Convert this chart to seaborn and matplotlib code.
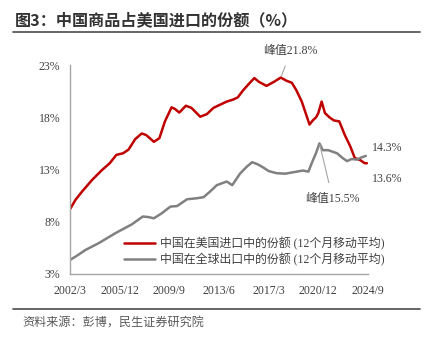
import matplotlib
matplotlib.use("Agg")
import matplotlib.pyplot as plt
import seaborn as sns
import pandas as pd
from matplotlib.lines import Line2D

# China's share of US imports (12-month moving average, %)
us_import_dates = [
    "2002-03", "2002-08", "2003-02", "2003-11", "2004-08", "2005-03", "2005-09",
    "2006-03", "2006-08", "2007-02", "2007-08", "2007-12", "2008-07", "2008-12",
    "2009-05", "2009-11", "2010-02", "2010-06", "2010-12", "2011-05", "2012-01",
    "2012-07", "2013-01", "2013-07", "2014-01", "2014-07", "2014-11", "2015-04",
    "2015-10", "2016-02", "2016-06", "2017-01", "2017-08", "2018-02", "2018-07",
    "2018-12", "2019-04", "2019-09", "2020-04", "2020-07", "2020-10", "2020-12",
    "2021-03", "2021-06", "2021-10", "2022-02", "2022-07", "2022-12", "2023-05",
    "2023-09", "2024-02", "2024-06", "2024-08",
]
us_import_share = [
    9.2, 10.1, 10.9, 12.0, 12.95, 13.6, 14.4,
    14.55, 14.9, 15.9, 16.45, 16.3, 15.65, 16.0,
    17.6, 18.95, 18.8, 18.45, 19.1, 18.9, 18.05,
    18.3, 18.9, 19.2, 19.5, 19.7, 19.9, 20.6,
    21.3, 21.75, 21.4, 21.0, 21.4, 21.8, 21.5,
    21.3, 20.6, 19.5, 17.3, 17.7, 18.0, 18.4,
    19.5, 18.4, 18.0, 17.7, 17.6, 16.3, 15.2,
    14.1, 13.9, 13.6, 13.6,
]

# China's share of global exports (12-month moving average, %)
world_export_dates = [
    "2002-03", "2002-10", "2003-05", "2004-05", "2005-08", "2006-11", "2007-09",
    "2008-02", "2008-07", "2009-02", "2009-10", "2010-04", "2011-01", "2011-10",
    "2012-04", "2012-10", "2013-04", "2014-01", "2014-06", "2015-01", "2015-07",
    "2015-12", "2016-05", "2016-10", "2017-03", "2017-10", "2018-06", "2019-02",
    "2019-10", "2020-03", "2020-06", "2020-10", "2021-01", "2021-04", "2021-09",
    "2022-05", "2022-10", "2023-02", "2023-06", "2023-11", "2024-03", "2024-07",
]
world_export_share = [
    4.34, 4.8, 5.3, 5.95, 6.9, 7.75, 8.5,
    8.45, 8.33, 8.8, 9.45, 9.5, 10.15, 10.25,
    10.35, 10.9, 11.5, 11.85, 11.5, 12.6, 13.25,
    13.7, 13.5, 13.2, 12.85, 12.65, 12.6, 12.75,
    12.9, 12.8, 13.6, 14.6, 15.5, 14.85, 14.85,
    14.55, 14.1, 13.8, 14.0, 13.95, 14.15, 14.3,
]

series_names = ["中国在美国进口中的份额 (12个月移动平均)",
                "中国在全球出口中的份额 (12个月移动平均)"]
x_tick_labels = ["2002/3", "2005/12", "2009/9", "2013/6", "2017/3", "2020/12", "2024/9"]
y_ticks = [3, 8, 13, 18, 23]


def month_index(labels):
    d = pd.to_datetime(labels, format="%Y-%m")
    return (d.year - 2002) * 12 + d.month - 3


frame = pd.concat([
    pd.DataFrame({"m": month_index(us_import_dates), "v": us_import_share,
                  "s": series_names[0]}),
    pd.DataFrame({"m": month_index(world_export_dates), "v": world_export_share,
                  "s": series_names[1]}),
])

sns.set_style("white")
plt.rcParams["font.family"] = ["Liberation Serif", "Noto Sans CJK SC"]

RED = "#C00000"
GREY = "#808080"
TXT = "#404040"

fig = plt.figure(figsize=(4.3, 3.4), dpi=100)
ax = fig.add_axes([70 / 430, 1 - 274 / 340, 298 / 430, 209 / 340])

sns.lineplot(data=frame, x="m", y="v", hue="s", palette=[RED, GREY],
             linewidth=1.8, ax=ax, legend=True, sort=True)

tick_pos = [month_index([t.replace("/", "-")])[0] for t in x_tick_labels]
ax.set_xlim(tick_pos[0], tick_pos[-1])
ax.set_ylim(3, 23)
ax.set_xticks(tick_pos)
ax.set_xticklabels(x_tick_labels)
ax.set_yticks(y_ticks)
ax.set_yticklabels([f"{v}%" for v in y_ticks])
ax.set_xlabel("")
ax.set_ylabel("")
for side in ["top", "right"]:
    ax.spines[side].set_visible(False)
for side in ["left", "bottom"]:
    ax.spines[side].set_color("#A6A6A6")
    ax.spines[side].set_linewidth(1.0)
ax.tick_params(axis="both", which="major", direction="out", length=4,
               width=1.0, color="#A6A6A6", labelsize=8.5, labelcolor=TXT, pad=4)
ax.tick_params(axis="y", length=3)

leg = ax.legend(loc="upper left", bbox_to_anchor=(113 / 430, 1 - 226 / 340),
                bbox_transform=fig.transFigure, frameon=False,
                handlelength=2.6, handletextpad=0.45, labelspacing=0.25,
                prop={"size": 8.6})
for t in leg.get_texts():
    t.set_color(TXT)

# Peak annotations and end-point labels
red_peak_m = month_index(["2018-02"])[0]
ax.annotate("峰值21.8%", xy=(red_peak_m, 21.8), xytext=(red_peak_m + 9, 24.3),
            ha="center", va="center", fontsize=8.6, color=TXT,
            arrowprops=dict(arrowstyle="-", color="#A6A6A6", lw=0.8,
                            shrinkA=4, shrinkB=1),
            annotation_clip=False)
grey_peak_m = month_index(["2021-01"])[0]
ax.annotate("峰值15.5%", xy=(grey_peak_m, 15.5), xytext=(grey_peak_m + 12, 10.2),
            ha="center", va="center", fontsize=8.6, color=TXT,
            arrowprops=dict(arrowstyle="-", color="#A6A6A6", lw=0.8,
                            shrinkA=5, shrinkB=1))
ax.text(tick_pos[-1] + 4, 15.1, f"{world_export_share[-1]}%", fontsize=8.6,
        color=TXT, va="center", ha="left")
ax.text(tick_pos[-1] + 4, 12.1, f"{us_import_share[-1]}%", fontsize=8.6,
        color=TXT, va="center", ha="left")

# Title, rules and source note
fig.text(15 / 430, 1 - 20 / 340, "图3：中国商品占美国进口的份额（%）",
         family=["Noto Sans CJK SC"], fontweight="bold", fontsize=11.6,
         color="#333333", va="center", ha="left")
fig.add_artist(Line2D([13 / 430, 420 / 430], [1 - 32 / 340, 1 - 32 / 340],
                      color="#595959", lw=1.3, transform=fig.transFigure))
fig.add_artist(Line2D([13 / 430, 420 / 430], [1 - 309 / 340, 1 - 309 / 340],
                      color="#595959", lw=1.3, transform=fig.transFigure))
fig.text(22 / 430, 1 - 323 / 340, "资料来源：彭博，民生证券研究院",
         family=["Noto Sans CJK SC"], fontsize=8.7, color="#595959",
         va="center", ha="left")

fig.savefig("out.png", dpi=100)
